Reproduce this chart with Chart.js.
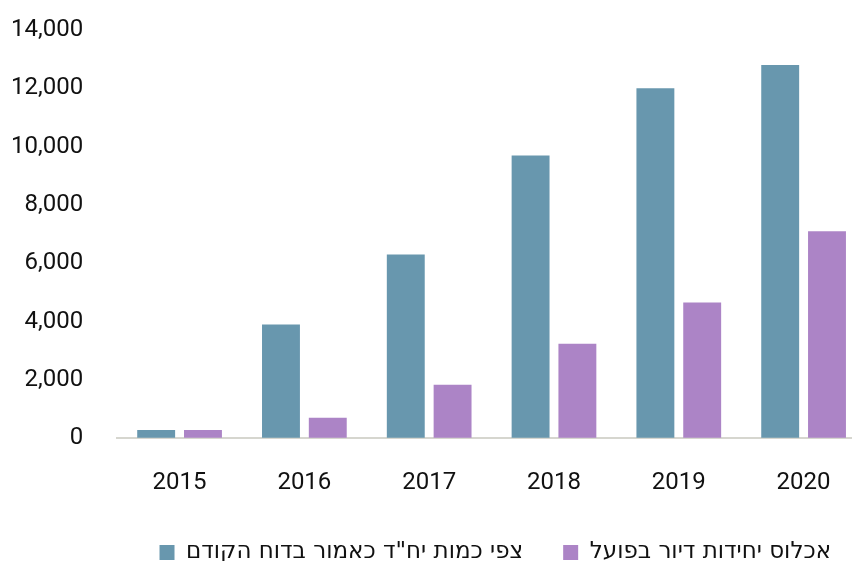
<!DOCTYPE html>
<html>
<head>
<meta charset="utf-8">
<script src="https://cdn.jsdelivr.net/npm/chart.js@4"></script>
<style>
  html, body { margin: 0; padding: 0; background: #fff; }
  #clip { width: 852px; height: 562px; overflow: hidden; }
  #wrap { width: 866px; height: 562px; position: relative; }
</style>
</head>
<body>
<div id="clip"><div id="wrap"><canvas id="chart_units"></canvas></div></div>
<script>
var years = ['2015', '2016', '2017', '2018', '2019', '2020'];
var expectedUnits = [280, 3900, 6300, 9700, 12000, 12800];
var actualUnits = [280, 700, 1830, 3240, 4650, 7100];
var yTicks = [0, 2000, 4000, 6000, 8000, 10000, 12000, 14000];
var seriesNames = ['צפי כמות יח"ד כאמור בדוח הקודם', 'אכלוס יחידות דיור בפועל'];

var tickFont = 'Roboto, "Liberation Sans", sans-serif';
var legendFont = '"DejaVu Sans", sans-serif';

var chart_units = new Chart(document.getElementById('chart_units'), {
    type: 'bar',
    data: {
        labels: years,
        datasets: [
            {
                label: seriesNames[0],
                backgroundColor: '#6897ae',
                data: expectedUnits,
                barPercentage: 0.81,
                categoryPercentage: 0.75
            },
            {
                label: seriesNames[1],
                backgroundColor: '#ac84c6',
                data: actualUnits,
                barPercentage: 0.81,
                categoryPercentage: 0.75
            }
        ]
    },
    options: {
        animation: false,
        responsive: true,
        maintainAspectRatio: false,
        layout: {
            padding: { top: 30, right: 0, left: 7, bottom: 1 }
        },
        plugins: {
            tooltip: { enabled: false },
            legend: {
                position: 'bottom',
                align: 'end',
                rtl: false,
                textDirection: 'rtl',
                labels: {
                    color: '#111',
                    boxWidth: 15,
                    boxHeight: 15,
                    padding: 40,
                    font: { family: legendFont, size: 23 }
                }
            }
        },
        scales: {
            x: {
                // invisible tick marks give the label gap without widening the side padding
                grid: { display: true, drawOnChartArea: false, drawTicks: true, tickLength: 26, tickColor: 'rgba(0,0,0,0)' },
                border: { display: true, color: '#d6d6cf', width: 2 },
                ticks: {
                    color: '#111',
                    padding: 4,
                    font: { family: tickFont, size: 24 }
                }
            },
            y: {
                min: 0,
                max: 14000,
                afterBuildTicks: function(axis) {
                    axis.ticks = yTicks.map(function(v) { return { value: v }; });
                },
                grid: { display: true, drawOnChartArea: false, drawTicks: true, tickLength: 30, tickColor: 'rgba(0,0,0,0)' },
                border: { display: false },
                ticks: {
                    color: '#111',
                    padding: 4,
                    font: { family: tickFont, size: 24 },
                    callback: function(value) {
                        return value.toLocaleString('en-US');
                    }
                }
            }
        }
    },
    plugins: [{
        id: 'legendBox',
        beforeUpdate: function(chart) {
            var legend = chart.legend;
            if (legend && !legend._heightPatched) {
                var origFit = legend.fit;
                legend.fit = function() {
                    origFit.call(this);
                    this.height = 60;
                };
                legend._heightPatched = true;
            }
        },
        afterLayout: function(chart) {
            // nudge the legend row to where the original sits
            if (chart.legend) {
                chart.legend.right += 5;
            }
        }
    }]
});
</script>
</body>
</html>
